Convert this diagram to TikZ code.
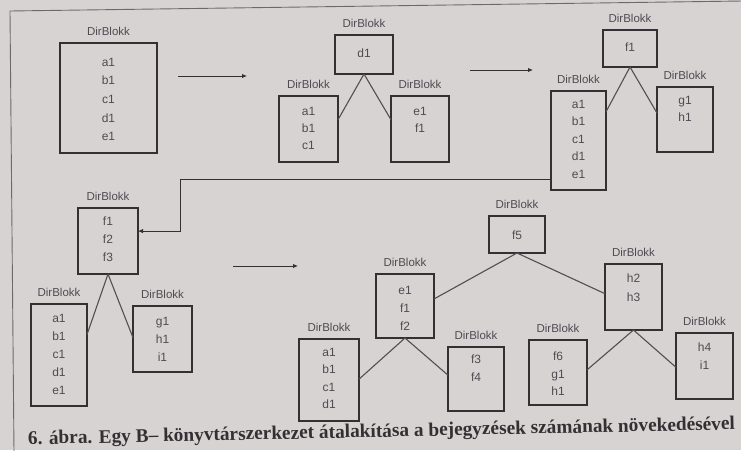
\documentclass[tikz,border=0pt]{standalone}
\usepackage{fontspec}
\setmainfont{Liberation Sans}
\newfontfamily\capfont{Liberation Serif}
\usetikzlibrary{arrows.meta,calc}

\definecolor{paper}{RGB}{216,211,211}
\definecolor{ink}{RGB}{52,47,50}
\definecolor{softink}{RGB}{80,74,82}
\definecolor{frameink}{RGB}{110,104,108}

\tikzset{
  blk/.style={draw=ink, line width=1.6pt, inner sep=0pt, outer sep=0pt},
  lbl/.style={text=softink, font=\fontsize{11.5}{12}\selectfont, inner sep=0pt},
  cnt/.style={text=softink, font=\fontsize{12}{17.6}\selectfont, align=center, inner sep=0pt},
  link/.style={draw=ink!85, line width=1.1pt},
  flow/.style={draw=ink, line width=0.9pt, -{Latex[length=5pt,width=4.5pt]}},
  frameline/.style={draw=frameink, line width=0.9pt},
  capstyle/.style={text=ink, inner sep=0pt,
    font=\capfont\bfseries\fontsize{19.3}{20}\selectfont},
}

% a directory block: [content options]{name}{x1}{y1}{x2}{y2}{first line y}{entries}
\newcommand\dirblk[8][]{%
  \node[blk, minimum width={#5-#3}, minimum height={#6-#4}] (#2) at ({(#3+#5)/2},{(#4+#6)/2}) {};
  \node[lbl] (#2-lbl) at ({(#3+#5)/2},{#4-11.5}) {DirBlokk};
  \node[cnt, anchor=north, #1] (#2-txt) at ({(#3+#5)/2},{#7-4.4}) {#8};
}

\begin{document}
\begin{tikzpicture}[x=1pt,y=-1pt]
\useasboundingbox (0,0) rectangle (741,450);
\clip (0,0) rectangle (741,450);
\fill[paper] (0,0) rectangle (741,450);

% page frame
\draw[frameline] (14,452) -- (10,11) -- (743,1);

% stage 1
\dirblk[font=\fontsize{12}{18.7}\selectfont]{A}{60}{43}{157}{153}{62}{a1\\b1\\c1\\d1\\e1}

% stage 2
\dirblk{B}{335}{35}{393}{74}{53}{d1}
\dirblk[font=\fontsize{12}{17}\selectfont]{BL}{279}{96}{338}{162}{111}{a1\\b1\\c1}
\dirblk[font=\fontsize{12}{17}\selectfont]{BR}{391}{96}{449}{162}{111}{e1\\f1}

% stage 3
\dirblk{C}{603}{30}{657}{67}{47}{f1}
\dirblk{CL}{551}{91}{606}{190}{104}{a1\\b1\\c1\\d1\\e1}
\dirblk{CR}{657}{87}{713}{152}{100}{g1\\h1}

% stage 4
\dirblk[font=\fontsize{12}{18}\selectfont]{D}{78}{208}{138}{274}{221}{f1\\f2\\f3}
\dirblk[font=\fontsize{12}{18}\selectfont]{DL}{31}{304}{87}{406}{318}{a1\\b1\\c1\\d1\\e1}
\dirblk[font=\fontsize{12}{18}\selectfont]{DR}{133}{306}{192}{372}{321}{g1\\h1\\i1}

% stage 5
\dirblk{E}{489}{216}{545}{253}{235}{f5}
\dirblk[font=\fontsize{12}{18}\selectfont]{EM}{376}{274}{434}{338}{290}{e1\\f1\\f2}
\dirblk{ELL}{299}{339}{359}{421}{352}{a1\\b1\\c1\\d1}
\dirblk[font=\fontsize{12}{18}\selectfont]{ELR}{448}{347}{504}{411}{359}{f3\\f4}
\dirblk[font=\fontsize{12}{19}\selectfont]{ER}{605}{264}{662}{330}{278}{h2\\h3}
\dirblk{ERL}{529}{340}{587}{405}{356}{f6\\g1\\h1}
\dirblk[font=\fontsize{12}{18}\selectfont]{ERR}{676}{333}{733}{399}{347}{h4\\i1}

% tree edges
\draw[link] (B.south) -- ($(BL.north east)!0.36!(BL.south east)$);
\draw[link] (B.south) -- ($(BR.north west)!0.36!(BR.south west)$);
\draw[link] (C.south) -- ($(CL.north east)!0.21!(CL.south east)$);
\draw[link] (C.south) -- ($(CR.north west)!0.40!(CR.south west)$);
\draw[link] (D.south) -- ($(DL.north east)!0.30!(DL.south east)$);
\draw[link] (D.south) -- ($(DR.north west)!0.48!(DR.south west)$);
\draw[link] (E.south) -- ($(EM.north east)!0.39!(EM.south east)$);
\draw[link] (E.south) -- ($(ER.north west)!0.45!(ER.south west)$);
\draw[link] (EM.south) -- ($(ELL.north east)!0.49!(ELL.south east)$);
\draw[link] (EM.south) -- ($(ELR.north west)!0.44!(ELR.south west)$);
\draw[link] (ER.south) -- ($(ERL.north east)!0.46!(ERL.south east)$);
\draw[link] (ER.south) -- ($(ERR.north west)!0.52!(ERR.south west)$);

% transformation arrows
\coordinate (s1) at (178,76);  \coordinate (t1) at (247,76);
\coordinate (s2) at (470,70);  \coordinate (t2) at (533,70);
\coordinate (s3) at (233,266); \coordinate (t3) at (298,266);
\draw[flow] (s1) -- (t1);
\draw[flow] (s2) -- (t2);
\draw[flow] (s3) -- (t3);
\coordinate (turn) at (180,179);
\draw[flow] (CL.west |- turn) -- (turn) |- ($(D.north east)!0.35!(D.south east)$);

% caption
\node[capstyle, anchor=base west, rotate=1.2] (caption) at (28,444.5)
  {6. ábra. Egy B– könyvtárszerkezet átalakítása a bejegyzések számának növekedésével};
\end{tikzpicture}
\end{document}
